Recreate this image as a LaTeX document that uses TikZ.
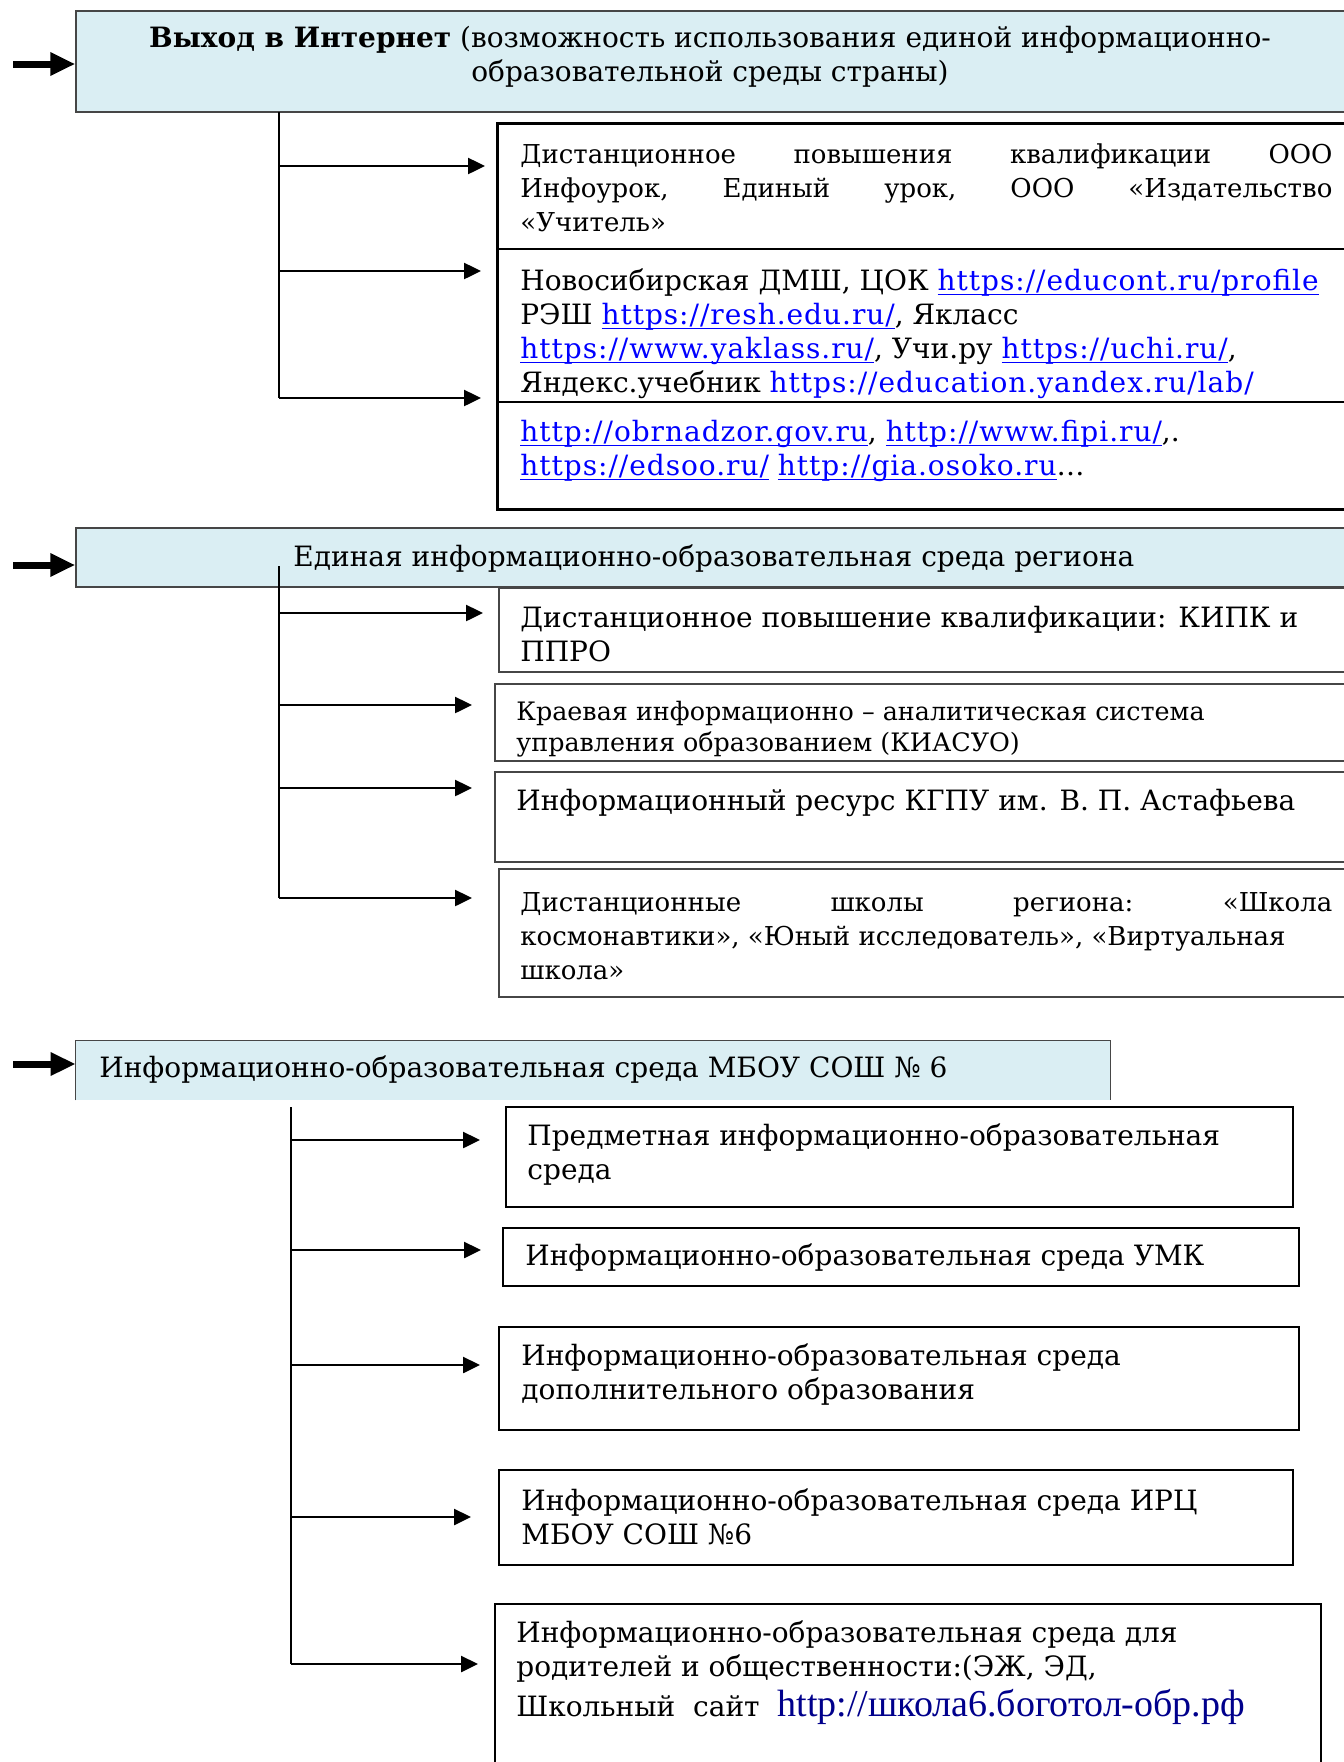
\documentclass[tikz,border=0pt]{standalone}
\usepackage{fontspec}
\setmainfont{DejaVu Serif}
\newfontfamily\timesfont{Liberation Serif}
\newfontfamily\urlfont[LetterSpace=3.5]{DejaVu Serif}
\usetikzlibrary{arrows.meta,fit}
\definecolor{aqua}{RGB}{218,238,243}
\definecolor{linkblue}{RGB}{0,0,255}
\definecolor{navyurl}{RGB}{0,0,140}
\definecolor{edgegray}{RGB}{70,70,70}
\newcommand{\lnk}[1]{\textcolor{linkblue}{\setbox0\hbox{\urlfont #1}\rlap{\rule[-2.6pt]{\wd0}{0.7pt}}\box0}}
\newcommand{\plainlnk}[1]{\textcolor{linkblue}{\urlfont #1}}
\newcommand{\mainsz}{\fontsize{14}{17}\selectfont}
\newcommand{\midsz}{\fontsize{13}{17}\selectfont}
\newcommand{\smallsz}{\fontsize{12.7}{15.5}\selectfont}
\tikzset{
  hdr/.style={draw=edgegray, line width=0.75pt, fill=aqua, inner sep=0pt},
  itembox/.style={draw=black, line width=0.75pt, inner sep=0pt},
  txt/.style={anchor=west, align=left, inner sep=0pt, font=\mainsz},
  bigarrow/.style={-{Triangle[length=12.5pt,width=11pt]}, line width=3.5pt},
  branch/.style={-{Triangle[length=8.5pt,width=8pt]}, line width=1.25pt},
  trunk/.style={line width=0.75pt},
}
\begin{document}
\begin{tikzpicture}[x=0.5pt,y=-0.5pt]
\useasboundingbox (0,0) rectangle (1344,1762);
\clip (0,0) rectangle (1344,1762);
\fill[white] (0,0) rectangle (1344,1762);

% ---------- Block 1 ----------
\node[hdr, fit={(76,11) (1360,112)}] (A) {};
\node[align=center, inner sep=0pt, font=\mainsz] (At) at (710,57)
  {\textbf{Выход в Интернет} (возможность использования единой информационно-\\образовательной среды страны)};
\coordinate (Ain) at (13,64);
\draw[bigarrow] (Ain) -- (Ain -| A.west);

\node[itembox, fit={(498,124) (1360,249)}] (B1) {};
\node[itembox, fit={(498,249) (1360,402)}] (B2) {};
\node[itembox, fit={(498,402) (1360,509)}] (B3) {};
\draw[line width=1.5pt] (B1.north east) -| (B3.south west) -- (B3.south east);

\node[txt, font=\midsz] (B1t) at (520,188) {%
  \hbox to 406pt{Дистанционное\hfill повышения\hfill квалификации\hfill ООО}\\
  \hbox to 406pt{Инфоурок,\hfill Единый\hfill урок,\hfill ООО\hfill «Издательство}\\
  «Учитель»};
\node[txt] (B2t) at (520,333.5) {%
  Новосибирская ДМШ, ЦОК \lnk{https://educont.ru/profile}\\
  РЭШ \lnk{https://resh.edu.ru/}, Якласс\\
  \lnk{https://www.yaklass.ru/}, Учи.ру \lnk{https://uchi.ru/},\\
  Яндекс.учебник \plainlnk{https://education.yandex.ru/lab/}};
\node[txt] (B3t) at (520,450.5) {%
  \lnk{http://obrnadzor.gov.ru}, \lnk{http://www.fipi.ru/},.\\
  \lnk{https://edsoo.ru/} \lnk{http://gia.osoko.ru}…};

\coordinate (a0) at (279,112);
\coordinate (a1) at (279,166);
\coordinate (a2) at (279,271);
\coordinate (a3) at (279,398);
\coordinate (e1) at (485,166);
\coordinate (e2) at (481,271);
\coordinate (e3) at (481,398);
\draw[trunk] (a0) -- (a3);
\draw[branch] (a1) -- (e1);
\draw[branch] (a2) -- (e2);
\draw[branch] (a3) -- (e3);

% ---------- Block 2 ----------
\node[hdr, fit={(76,528) (1360,587)}] (C) {};
\node[txt] (Ct) at (293,559) {Единая информационно-образовательная среда региона};
\coordinate (Cin) at (13,565);
\draw[bigarrow] (Cin) -- (Cin -| C.west);

\node[itembox, draw=edgegray, fit={(499,588) (1360,672)}] (C1) {};
\node[itembox, draw=edgegray, fit={(495,684) (1360,761)}] (C2) {};
\node[itembox, draw=edgegray, fit={(495,772) (1360,862)}] (C3) {};
\node[itembox, draw=edgegray, fit={(499,869) (1360,997)}] (C4) {};

\node[txt] (C1t) at (520,634) {Дистанционное повышение квалификации: КИПК и\\ППРО};
\node[txt, font=\smallsz] (C2t) at (516,729.5) {Краевая информационно – аналитическая система\\управления образованием (КИАСУО)};
\node[txt] (C3t) at (516,803) {Информационный ресурс КГПУ им. В. П. Астафьева};
\node[txt, font=\midsz] (C4t) at (520,936) {%
  \hbox to 406pt{Дистанционные\hfill школы\hfill региона:\hfill «Школа}\\
  космонавтики», «Юный исследователь», «Виртуальная\\
  школа»};

\coordinate (c0) at (279,566);
\coordinate (c1) at (279,613);
\coordinate (c2) at (279,705);
\coordinate (c3) at (279,788);
\coordinate (c4) at (279,898);
\coordinate (f1) at (483,613);
\coordinate (f2) at (472,705);
\coordinate (f3) at (472,788);
\coordinate (f4) at (472,898);
\draw[trunk] (c0) -- (c4);
\draw[branch] (c1) -- (f1);
\draw[branch] (c2) -- (f2);
\draw[branch] (c3) -- (f3);
\draw[branch] (c4) -- (f4);

% ---------- Block 3 ----------
\fill[aqua] (76,1041) rectangle (1110,1100);
\node[inner sep=0pt, fit={(76,1041) (1110,1100)}] (D) {};
\draw[edgegray, line width=0.75pt] (D.south west) |- (D.north east) -- (D.south east);
\node[txt] (Dt) at (99,1070) {Информационно-образовательная среда МБОУ СОШ № 6};
\coordinate (Din) at (13,1064);
\draw[bigarrow] (Din) -- (Din -| D.west);

\node[itembox, fit={(506,1107) (1293,1207)}] (D1) {};
\node[itembox, fit={(503,1228) (1299,1286)}] (D2) {};
\node[itembox, fit={(499,1327) (1299,1430)}] (D3) {};
\node[itembox, fit={(499,1470) (1293,1565)}] (D4) {};
\node[itembox, fit={(495,1604) (1321,1790)}] (D5) {};

\node[txt] (D1t) at (527,1155) {Предметная информационно-образовательная\\среда};
\node[txt] (D2t) at (525,1258) {Информационно-образовательная среда УМК};
\node[txt] (D3t) at (521,1375) {Информационно-образовательная среда\\дополнительного образования};
\node[txt] (D4t) at (521,1516.5) {Информационно-образовательная среда ИРЦ\\МБОУ СОШ №6};
\node[txt] (D5t) at (516,1673) {Информационно-образовательная среда для\\родителей и общественности:(ЭЖ, ЭД,\\[3pt]
  Школьный\ \ сайт \ {\timesfont\fontsize{19}{20}\selectfont\textcolor{navyurl}{http://школа6.боготол-обр.рф}}};

\coordinate (d0) at (291,1107);
\coordinate (d1) at (291,1140);
\coordinate (d2) at (291,1250);
\coordinate (d3) at (291,1365);
\coordinate (d4) at (291,1517);
\coordinate (d5) at (291,1664);
\coordinate (g1) at (480,1140);
\coordinate (g2) at (481,1250);
\coordinate (g3) at (480,1365);
\coordinate (g4) at (471,1517);
\coordinate (g5) at (478,1664);
\draw[trunk] (d0) -- (d5);
\draw[branch] (d1) -- (g1);
\draw[branch] (d2) -- (g2);
\draw[branch] (d3) -- (g3);
\draw[branch] (d4) -- (g4);
\draw[branch] (d5) -- (g5);
\end{tikzpicture}
\end{document}
